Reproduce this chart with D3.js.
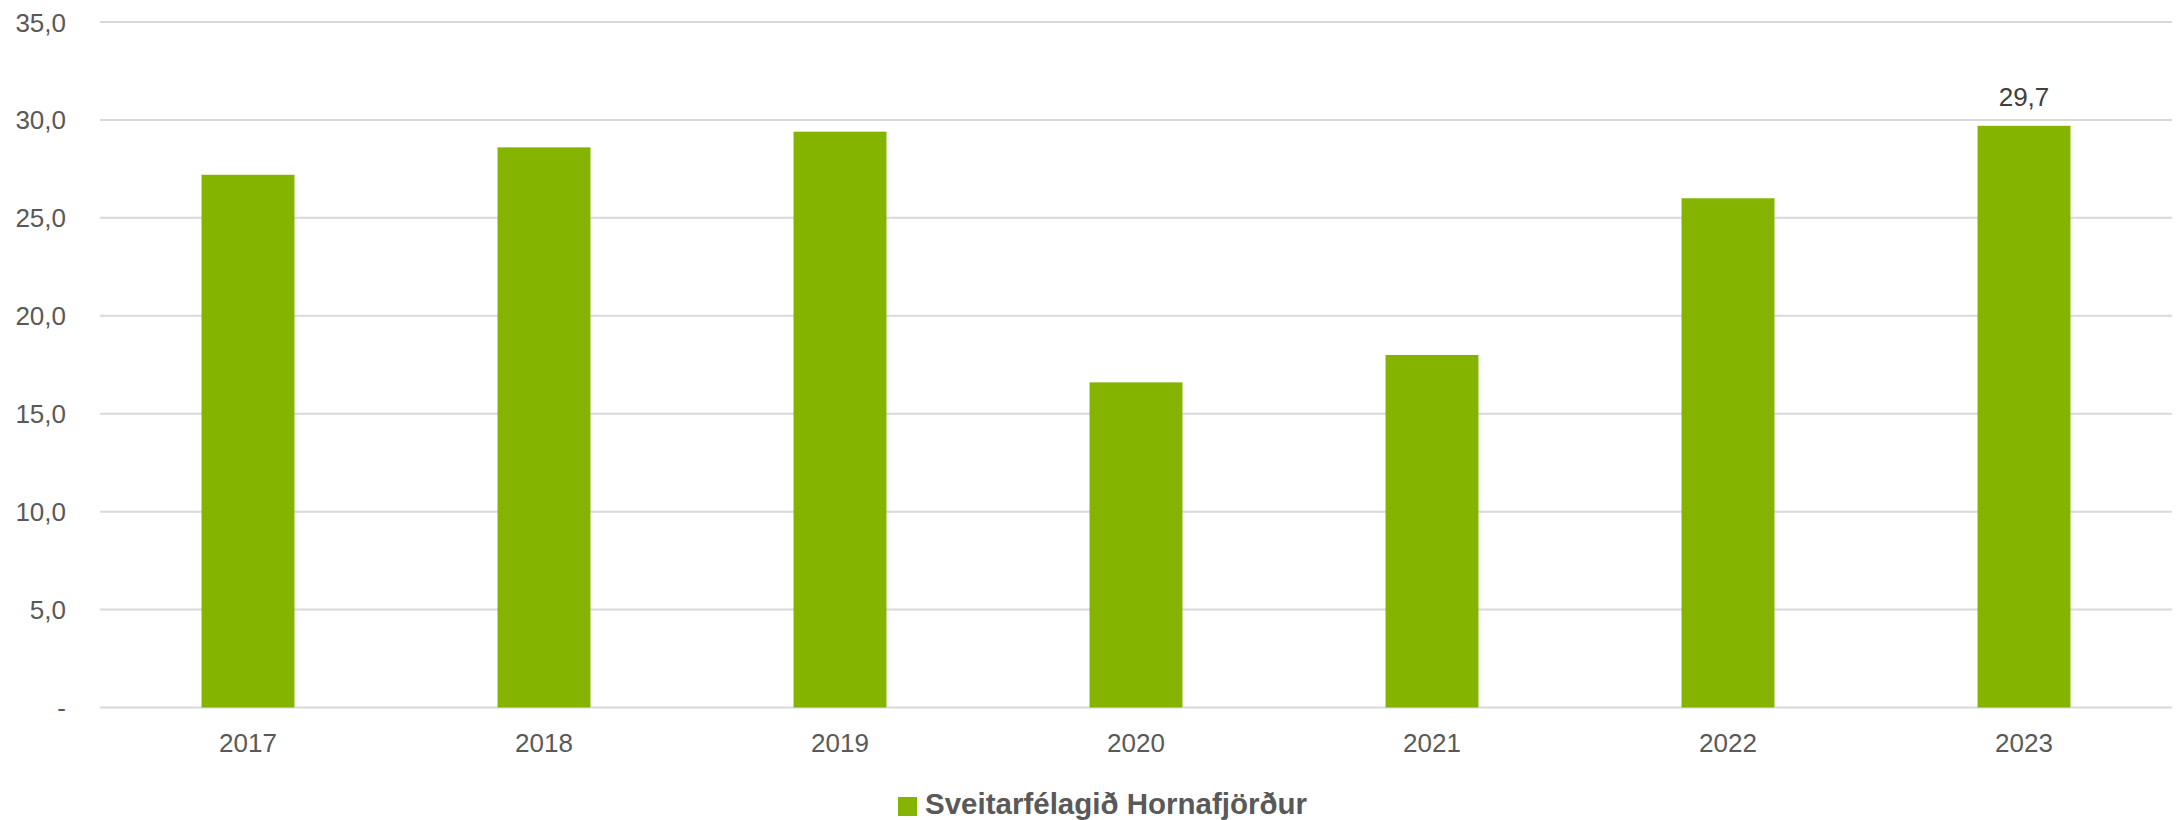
<!DOCTYPE html>
<html><head><meta charset="utf-8">
<script src="https://cdn.jsdelivr.net/npm/d3@7"></script>
<style>body{margin:0;background:#fff}svg{display:block}</style>
</head><body>
<svg id="c" width="2180" height="820"></svg>
<script>
const years = ["2017","2018","2019","2020","2021","2022","2023"];
const values = [27.2, 28.6, 29.4, 16.6, 18.0, 26.0, 29.7];
const yTicks = [0,5,10,15,20,25,30,35];
const seriesName = "Sveitarfélagið Hornafjörður";
const labelIndex = [6];

const svg = d3.select("#c");
const font = "'Liberation Sans', Arial, sans-serif";
const x = d3.scaleBand().domain(years).range([100,2172]).paddingInner(0.686).paddingOuter(0.343);
const y = d3.scaleLinear().domain([0,35]).range([707.5,22]);
const fmt = v => v===0 ? "-" : d3.format(".1f")(v).replace(".",",");

svg.append("g").selectAll("line").data(yTicks).join("line")
  .attr("x1",100).attr("x2",2172)
  .attr("y1",d=>y(d)).attr("y2",d=>y(d))
  .attr("stroke","#d9d9d9").attr("stroke-width",2);

svg.append("g").selectAll("text").data(yTicks).join("text")
  .attr("x",66).attr("y",d=>y(d)+9.5)
  .attr("text-anchor","end").attr("font-family",font).attr("font-size",26)
  .attr("fill","#595959").text(fmt);

svg.append("g").selectAll("rect").data(values).join("rect")
  .attr("x",(d,i)=>x(years[i])).attr("width",x.bandwidth())
  .attr("y",d=>y(d)).attr("height",d=>y(0)-y(d))
  .attr("fill","#84b400");

svg.append("g").selectAll("text").data(years).join("text")
  .attr("x",d=>x(d)+x.bandwidth()/2).attr("y",752)
  .attr("text-anchor","middle").attr("font-family",font).attr("font-size",26)
  .attr("fill","#595959").text(d=>d);

svg.append("g").selectAll("text").data(labelIndex).join("text")
  .attr("x",i=>x(years[i])+x.bandwidth()/2).attr("y",i=>y(values[i])-20)
  .attr("text-anchor","middle").attr("font-family",font).attr("font-size",26)
  .attr("fill","#404040").text(i=>fmt(values[i]));

const lg = svg.append("g");
lg.append("rect").attr("x",898).attr("y",797).attr("width",19).attr("height",19).attr("fill","#84b400");
lg.append("text").attr("x",925).attr("y",814).attr("font-family",font).attr("font-size",29.5)
  .attr("font-weight","bold").attr("fill","#595959").text(seriesName);
</script>
</body></html>
